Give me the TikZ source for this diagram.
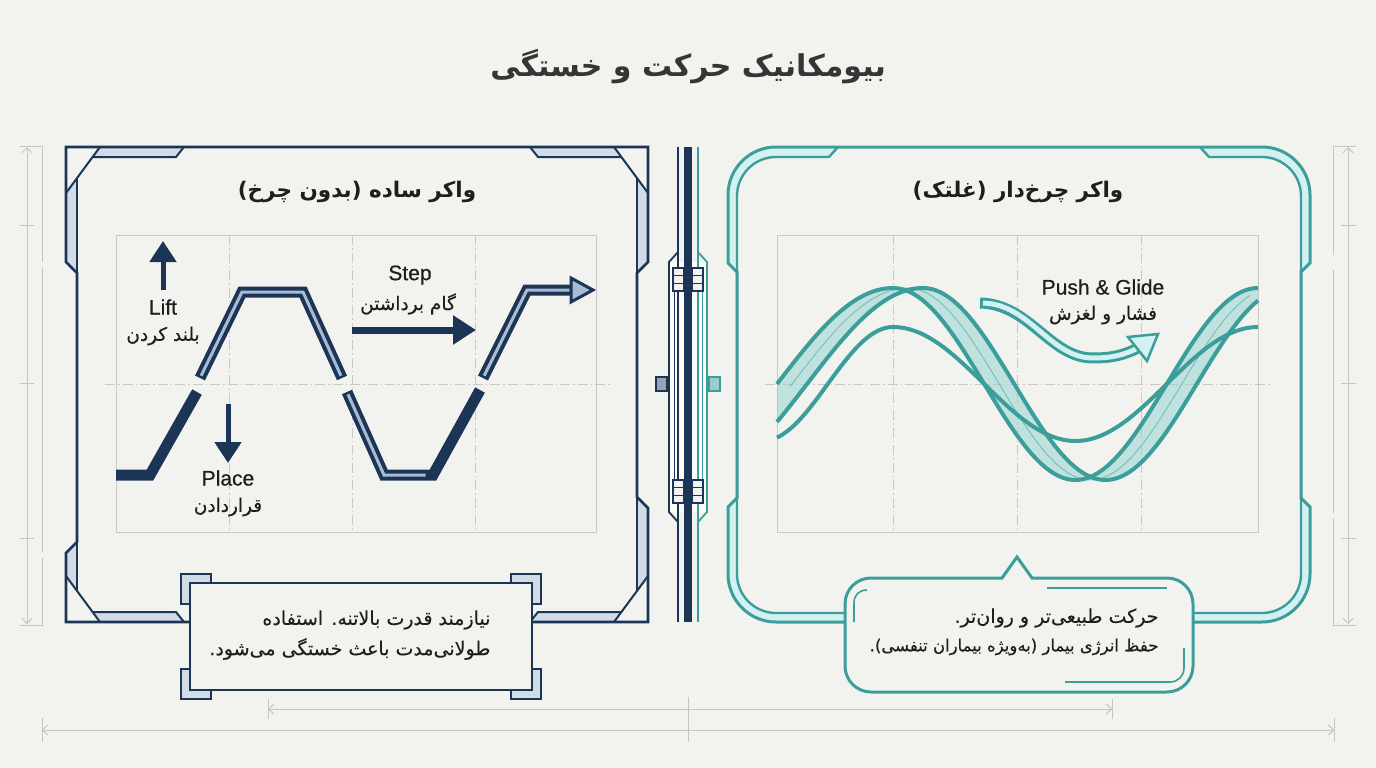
\documentclass[tikz,border=0pt]{standalone}
\usepackage{fontspec}
\setmainfont{Liberation Sans}
\newfontfamily\lmed{Liberation Sans}[FakeBold=0.6]
\newfontfamily\fa[Script=Arabic]{DejaVu Sans}
\newfontfamily\famed[Script=Arabic,FakeBold=0.3]{DejaVu Sans}
\TeXXeTstate=1
\usetikzlibrary{arrows.meta}
\definecolor{bg}{HTML}{F2F3EE}
\definecolor{navy}{HTML}{1C3557}
\definecolor{navyl}{HTML}{D2DCE7}
\definecolor{stripe}{HTML}{A8BBD2}
\definecolor{tealc}{HTML}{3C9E9B}
\definecolor{teall}{HTML}{D3F1F0}
\definecolor{ribbon}{HTML}{8FD3CF}
\definecolor{gridc}{HTML}{C9C9C6}
\definecolor{dimc}{HTML}{C4C4C1}
\definecolor{ink}{HTML}{1E1E1E}
\tikzset{
  dashdot/.style={dash pattern=on 10pt off 3pt on 1.5pt off 3pt},
  gridline/.style={gridc, line width=1},
  dimline/.style={dimc, line width=1},
  barbs/.style={{Straight Barb[length=5pt,width=10pt]}-{Straight Barb[length=5pt,width=10pt]}},
  nframe/.style={navy, line width=2.6, line join=miter},
  ndetail/.style={navy, line width=2},
  tframe/.style={tealc, line width=3},
  tdetail/.style={tealc, line width=2.4},
  steppath/.style={navy, line width=11, line join=miter},
  stripepath/.style={stripe, line width=3, line join=miter, shorten <=2.5pt, shorten >=2.5pt},
  wave/.style={tealc, line width=4},
  latin/.style={text=ink, font=\lmed\fontsize{21}{25}\selectfont},
  persian/.style={text=ink, font=\famed\fontsize{18.5}{23}\selectfont},
  declare function={
    ph(\t)=(\t<893)*((\t-777)/116*90)+(\t>=893)*(90+(\t-893)/182.5*180);
    phb(\t)=(\t<893)*(-70+(\t-777)/116*160)+(\t>=893)*(90+(\t-893)/182.5*180);
  }
}
\begin{document}
\begin{tikzpicture}[x=1pt,y=-1pt]
\useasboundingbox (0,0) rectangle (1376,768);
\fill[bg] (0,0) rectangle (1376,768);

% ---------- title
\node[text=ink!90, font=\fa\bfseries\fontsize{30}{36}\selectfont] (title) at (688,67) {\beginR بیومکانیک حرکت و خستگی\endR};

% ---------- dimension lines
\draw[dimline, barbs] (27,147) -- (27,624);
\draw[dimline] (20,146) -- (43,146) (20,625) -- (43,625);
\draw[dimline] (42,146) -- (42,262) (42,268) -- (42,552) (42,558) -- (42,625);
\foreach \yy in {225,383,538} \draw[dimline] (20,\yy) -- (34,\yy);
\draw[dimline, barbs] (1348,147) -- (1348,624);
\draw[dimline] (1333,146) -- (1356,146) (1333,625) -- (1356,625);
\draw[dimline] (1333,146) -- (1333,255) (1333,270) -- (1333,513) (1333,518) -- (1333,625);
\foreach \yy in {225,383,538} \draw[dimline] (1341,\yy) -- (1356,\yy);
\draw[dimline, barbs] (268,709) -- (1112,709);
\draw[dimline] (268,699) -- (268,719) (1112,699) -- (1112,719);
\draw[dimline, barbs] (42,730) -- (1334,730);
\draw[dimline] (42,718) -- (42,742) (1334,718) -- (1334,742) (688,697) -- (688,742);

% ---------- left frame
\fill[navyl] (100,147)--(184,147)--(176,157)--(93,157)--cycle;
\fill[navyl] (66,193)--(77,178)--(77,273)--(66,262)--cycle;
\fill[navyl] (614,147)--(530,147)--(538,157)--(621,157)--cycle;
\fill[navyl] (648,193)--(637,178)--(637,273)--(648,262)--cycle;
\fill[navyl] (100,622)--(184,622)--(176,612)--(93,612)--cycle;
\fill[navyl] (66,553)--(77,542)--(77,591)--(66,576)--cycle;
\fill[navyl] (614,622)--(530,622)--(538,612)--(621,612)--cycle;
\fill[navyl] (648,508)--(637,497)--(637,591)--(648,576)--cycle;
\draw[nframe] (66,147)--(648,147)--(648,262)--(637,273)--(637,497)--(648,508)--(648,622)--(66,622)--(66,553)--(77,542)--(77,273)--(66,262)--cycle;
\draw[ndetail] (77,178)--(77,591) (637,178)--(637,591);
\draw[ndetail] (66,193)--(100,147) (648,193)--(614,147) (66,576)--(100,622) (648,576)--(614,622);
\draw[ndetail, line join=miter] (93,157)--(176,157)--(184,147) (621,157)--(538,157)--(530,147)
  (93,612)--(176,612)--(184,622) (621,612)--(538,612)--(530,622);

% ---------- right frame
\fill[teall] (728,263)--(728,195) .. controls (728,168.5) and (749.5,147) .. (776,147) -- (1262,147)
  .. controls (1288.5,147) and (1310,168.5) .. (1310,195) -- (1310,263) -- (1301,272) -- (1301,498) -- (1310,507)
  -- (1310,574) .. controls (1310,600.5) and (1288.5,622) .. (1262,622) -- (776,622)
  .. controls (749.5,622) and (728,600.5) .. (728,574) -- (728,507) -- (737,498) -- (737,272) -- cycle;
\fill[bg] (838,147)--(829,157)--(776,157) .. controls (754.5,157) and (737,174.5) .. (737,196) -- (737,574)
  .. controls (737,595.5) and (754.5,613) .. (776,613) -- (1262,613) .. controls (1283.5,613) and (1301,595.5) .. (1301,574)
  -- (1301,196) .. controls (1301,174.5) and (1283.5,157) .. (1262,157) -- (1209,157) -- (1200,147) -- cycle;
\draw[tframe, line join=miter] (728,263)--(728,195) .. controls (728,168.5) and (749.5,147) .. (776,147) -- (1262,147)
  .. controls (1288.5,147) and (1310,168.5) .. (1310,195) -- (1310,263) -- (1301,272) -- (1301,498) -- (1310,507)
  -- (1310,574) .. controls (1310,600.5) and (1288.5,622) .. (1262,622) -- (776,622)
  .. controls (749.5,622) and (728,600.5) .. (728,574) -- (728,507) -- (737,498) -- (737,272) -- cycle;
\draw[tdetail] (838,147)--(829,157)--(776,157) .. controls (754.5,157) and (737,174.5) .. (737,196) -- (737,574)
  .. controls (737,595.5) and (754.5,613) .. (776,613) -- (1262,613) .. controls (1283.5,613) and (1301,595.5) .. (1301,574)
  -- (1301,196) .. controls (1301,174.5) and (1283.5,157) .. (1262,157) -- (1209,157) -- (1200,147);

% ---------- divider
\fill[white!70!bg] (669,262) rectangle (707,512);
\draw[navy, line width=2] (678,147) -- (678,622);
\draw[tealc, line width=2] (698,147) -- (698,622);
\draw[navy, line width=1.8, line join=miter] (678,252)--(669,262)--(669,512)--(678,522);
\draw[tealc, line width=1.8, line join=miter] (698,252)--(707,262)--(707,512)--(698,522);
\draw[navy, line width=1] (674,292) -- (674,482);
\draw[tealc, line width=1] (702,292) -- (702,482);
\foreach \py in {268,480}{
  \draw[navy, line width=1.5, fill=bg] (673,\py) rectangle (684,\py+23);
  \draw[navy, line width=1.5, fill=bg] (692,\py) rectangle (703,\py+23);
  \draw[navy, line width=1.2] (673,\py+7.7) -- (703,\py+7.7) (673,\py+15.3) -- (703,\py+15.3);
}
\fill[navy] (684,147) rectangle (692,622);
\draw[navy, line width=1.5, fill=navy!45!white] (656,377) rectangle (667,391);
\draw[tealc, line width=1.5, fill=tealc!50!white] (709,377) rectangle (720,391);

% ---------- panel titles
\node[text=ink, font=\fa\bfseries\fontsize{21.5}{26}\selectfont] (ltitle) at (357,192) {\beginR واکر ساده (بدون چرخ)\endR};
\node[text=ink, font=\fa\bfseries\fontsize{21.5}{26}\selectfont] (rtitle) at (1018,192) {\beginR واکر چرخ^^^^200cدار (غلتک)\endR};

% ---------- left grid
\draw[gridline] (116,235) rectangle (596,532);
\foreach \gx in {229,352,475} \draw[gridline, dashdot] (\gx,235) -- (\gx,532);
\draw[gridline, dashdot] (105,384) -- (610,384);

% ---------- step path
\draw[steppath] (116,475)--(150,475)--(197,392);
\draw[steppath] (200,378)--(242,292)--(303,292)--(342,378);
\draw[stripepath] (200,378)--(242,292)--(303,292)--(342,378);
\draw[steppath] (347,392)--(384,475)--(433,475)--(480,390);
\draw[stripepath] (347,392)--(384,475)--(428,475);
\draw[steppath] (483,378)--(527,290)--(572,290);
\draw[stripepath] (483,378)--(527,290)--(572,290);
\draw[navy, line width=3, fill=stripe, line join=miter] (571,278)--(593,290)--(571,302)--cycle;

% arrows
\coordinate (liftA) at (163,290); \coordinate (liftB) at (163,241);
\coordinate (placeA) at (228,404); \coordinate (placeB) at (228,463);
\coordinate (stepA) at (352,330); \coordinate (stepB) at (476,330);
\draw[navy, line width=5, -{Triangle[length=21pt,width=26pt]}] (liftA) -- (liftB);
\draw[navy, line width=5, -{Triangle[length=21pt,width=26pt]}] (placeA) -- (placeB);
\draw[navy, line width=7, -{Triangle[length=23pt,width=28pt]}] (stepA) -- (stepB);

\node[latin] (lift) at (163,307) {Lift};
\node[persian] (liftfa) at (163,336) {\beginR بلند کردن\endR};
\node[latin] (place) at (228,478) {Place};
\node[persian] (placefa) at (228,507) {\beginR قراردادن\endR};
\node[latin] (step) at (410,275) {Step};
\node[persian] (stepfa) at (408,304) {\beginR گام برداشتن\endR};

% ---------- right grid
\draw[gridline] (777,235) rectangle (1258,532);
\foreach \gx in {893,1017,1141} \draw[gridline, dashdot] (\gx,235) -- (\gx,532);
\draw[gridline, dashdot] (765,384) -- (1272,384);

% ---------- waves
\fill[ribbon, opacity=0.5] plot[domain=777:1258, samples=140] (\x,{384-96*sin(ph(\x))})
  -- plot[domain=0:481, samples=140] ({1258-\x},{384-96*sin(ph(1258-\x-30))}) -- cycle;
\draw[wave] plot[domain=777:1258, samples=140, smooth] (\x,{384-96*sin(ph(\x-30))});
\draw[wave] plot[domain=777:1258, samples=140, smooth] (\x,{384-57*sin(phb(\x))});
\draw[wave] plot[domain=777:1258, samples=140, smooth] (\x,{384-96*sin(ph(\x))});
\draw[tealc, line width=1, opacity=0.5] plot[domain=790:1250, samples=120, smooth] (\x,{384-96*sin(ph(\x-15))});

% push & glide arrow
\draw[tealc, line width=11] (980,303) .. controls (1030,304) and (1050,358) .. (1093,358) .. controls (1112,358) and (1124,355) .. (1138,348);
\draw[teall, line width=5, shorten <=3pt] (980,303) .. controls (1030,304) and (1050,358) .. (1093,358) .. controls (1112,358) and (1124,355) .. (1138,348);
\draw[tealc, line width=2.5, fill=teall, line join=miter] (1158,334) -- (1147,361) -- (1128,337) -- cycle;
\node[latin] (push) at (1103,287) {Push \& Glide};
\node[persian] (pushfa) at (1103,315) {\beginR فشار و لغزش\endR};

% ---------- left note box
\draw[navy, line width=2.6, fill=bg] (190,583) rectangle (532,690);
\draw[navy, line width=2, fill=navyl, line join=miter] (181,574)--(211,574)--(211,583)--(190,583)--(190,604)--(181,604)--cycle;
\draw[navy, line width=2, fill=navyl, line join=miter] (541,574)--(511,574)--(511,583)--(532,583)--(532,604)--(541,604)--cycle;
\draw[navy, line width=2, fill=navyl, line join=miter] (181,699)--(211,699)--(211,690)--(190,690)--(190,669)--(181,669)--cycle;
\draw[navy, line width=2, fill=navyl, line join=miter] (541,699)--(511,699)--(511,690)--(532,690)--(532,669)--(541,669)--cycle;
\node[persian, anchor=east, font=\famed\fontsize{19}{24}\selectfont] (lnote1) at (494,620) {\beginR نیازمند قدرت بالاتنه. استفاده\endR};
\node[persian, anchor=east, font=\famed\fontsize{19}{24}\selectfont] (lnote2) at (494,649) {\beginR طولانی^^^^200cمدت باعث خستگی می^^^^200cشود.\endR};

% ---------- right note box
\draw[tframe, fill=bg, line join=miter] (871,578) -- (1002,578) -- (1017,557) -- (1032,578) -- (1167,578)
  .. controls (1181.4,578) and (1193,589.6) .. (1193,604) -- (1193,666)
  .. controls (1193,680.4) and (1181.4,692) .. (1167,692) -- (871,692)
  .. controls (856.6,692) and (845,680.4) .. (845,666) -- (845,604)
  .. controls (845,589.6) and (856.6,578) .. (871,578) -- cycle;
\draw[tealc, line width=1.6] (854,622) -- (854,603) .. controls (854,595) and (859,590) .. (867,590);
\draw[tealc, line width=1.6] (1047,588) -- (1167,588);
\draw[tealc, line width=1.6] (1184,648) -- (1184,668) .. controls (1184,676) and (1178,682) .. (1170,682) -- (1065,682);
\node[persian, anchor=east, font=\famed\fontsize{19}{24}\selectfont] (rnote1) at (1162,618) {\beginR حرکت طبیعی^^^^200cتر و روان^^^^200cتر.\endR};
\node[persian, anchor=east, font=\famed\fontsize{16.5}{22}\selectfont] (rnote2) at (1162,647) {\beginR حفظ انرژی بیمار (به^^^^200cویژه بیماران تنفسی).\endR};
\end{tikzpicture}
\end{document}
